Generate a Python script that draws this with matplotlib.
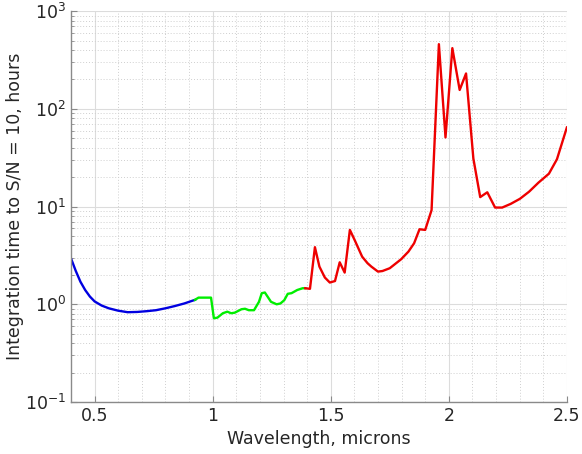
import matplotlib
matplotlib.use("Agg")
import matplotlib.pyplot as plt
import numpy as np

# visible band (blue)
wl_vis = [0.40, 0.42, 0.44, 0.46, 0.48, 0.50, 0.53, 0.56, 0.60, 0.64,
          0.68, 0.72, 0.76, 0.80, 0.84, 0.88, 0.925]
t_vis = [2.95, 2.2, 1.7, 1.4, 1.2, 1.07, 0.97, 0.91, 0.86, 0.83,
         0.835, 0.85, 0.87, 0.91, 0.96, 1.02, 1.11]

# near-IR, J band (green)
wl_j = [0.925, 0.94, 0.993, 1.005, 1.02, 1.043, 1.062, 1.078, 1.093, 1.122,
        1.137, 1.153, 1.175, 1.196, 1.208, 1.221, 1.247, 1.271, 1.287, 1.303,
        1.318, 1.334, 1.358, 1.381, 1.392]
t_j = [1.11, 1.17, 1.17, 0.72, 0.73, 0.81, 0.84, 0.81, 0.82, 0.89,
       0.9, 0.87, 0.87, 1.06, 1.3, 1.32, 1.06, 1.0, 1.02, 1.1,
       1.28, 1.3, 1.40, 1.46, 1.46]

# H and K bands (red)
wl_hk = [1.392, 1.412, 1.433, 1.452, 1.475, 1.496, 1.518, 1.538, 1.559, 1.581,
         1.601, 1.633, 1.656, 1.672, 1.700, 1.719, 1.75, 1.798, 1.829, 1.853,
         1.876, 1.90, 1.927, 1.958, 1.986, 2.015, 2.046, 2.073, 2.104, 2.133,
         2.163, 2.196, 2.226, 2.262, 2.301, 2.34, 2.38, 2.424, 2.458, 2.5]
t_hk = [1.46, 1.44, 3.84, 2.43, 1.88, 1.67, 1.73, 2.69, 2.11, 5.77,
        4.56, 3.07, 2.63, 2.43, 2.16, 2.19, 2.34, 2.89, 3.46, 4.21,
        5.86, 5.77, 9.2, 459, 51, 418, 156, 230, 31, 12.5,
        14.0, 9.77, 9.77, 10.65, 12.0, 14.2, 17.6, 21.7, 30.5, 64.5]

fig = plt.figure(figsize=(5.82, 4.54), dpi=100)
ax = fig.add_axes([0.122, 0.1145, 0.852, 0.861])

ax.plot(wl_vis, t_vis, color='#0000e0', lw=1.7)
ax.plot(wl_j, t_j, color='#00ee00', lw=1.7)
ax.plot(wl_hk, t_hk, color='#ee0000', lw=1.7)

ax.set_yscale('log')
ax.set_xlim(0.4, 2.5)
ax.set_ylim(0.1, 1000)
ax.set_xticks([0.5, 1, 1.5, 2, 2.5])
ax.set_xticklabels(['0.5', '1', '1.5', '2', '2.5'])
ax.set_xticks(np.arange(0.4, 2.5, 0.1), minor=True)

# matlab style grid
ax.grid(True, which='major', color='#dcdcdc', lw=0.8, ls='-')
ax.grid(True, which='minor', color='#cfcfcf', lw=0.7, ls=(0, (1, 2)))
ax.set_axisbelow(True)

for s in ['top', 'right']:
    ax.spines[s].set_visible(False)
for s in ['left', 'bottom']:
    ax.spines[s].set_color('#8a8a8a')
    ax.spines[s].set_linewidth(1.0)

ax.tick_params(which='both', direction='in', colors='#8a8a8a',
               labelcolor='#262626', labelsize=12.5)
ax.tick_params(which='major', length=4)
ax.tick_params(which='minor', length=2)
ax.tick_params(axis='x', which='minor', length=0)

ax.set_xlabel('Wavelength, microns', fontsize=12.5, color='#262626')
ax.set_ylabel('Integration time to S/N = 10, hours', fontsize=12.5,
              color='#262626', labelpad=1)

fig.savefig('out.png', dpi=100)
